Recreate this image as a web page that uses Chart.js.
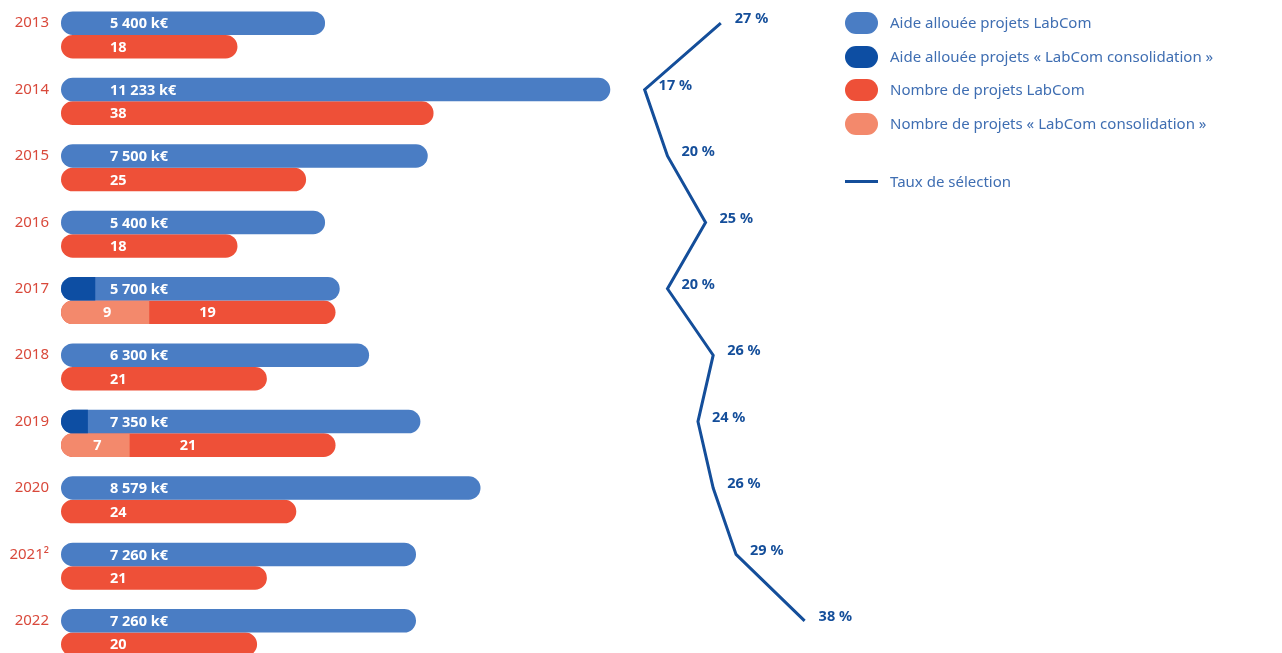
<!DOCTYPE html>
<html lang="fr">
<head>
<meta charset="utf-8">
<title>LabCom</title>
<script src="https://cdn.jsdelivr.net/npm/chart.js@4.4.1/dist/chart.umd.min.js"></script>
<style>
  html, body { margin: 0; padding: 0; background: #fff; overflow: hidden; }
  #wrap { position: relative; width: 1282px; height: 653px; overflow: hidden; }
  #c { position: absolute; left: 0; top: -12px; }
  .legend { position: absolute; left: 845px; top: 0; font-family: "Noto Sans", sans-serif; font-size: 15px; color: #3f6eb2; }
  .legend div { position: absolute; left: 0; white-space: nowrap; height: 22px; line-height: 22px; }
  .legend span.sw { position: absolute; left: 0; top: 0; width: 33px; height: 22px; border-radius: 11px; }
  .legend span.ln { position: absolute; left: 0; top: 9px; width: 33px; height: 3px; background: #144e9a; }
  .legend span.tx { position: absolute; left: 45px; top: -1px; }
</style>
</head>
<body>
<div id="wrap">
  <canvas id="c" width="1282" height="666"></canvas>
  <div class="legend">
    <div style="top:12px"><span class="sw" style="background:#4a7dc4"></span><span class="tx">Aide allouée projets LabCom</span></div>
    <div style="top:46px"><span class="sw" style="background:#0d4ea3"></span><span class="tx">Aide allouée projets « LabCom consolidation »</span></div>
    <div style="top:79px"><span class="sw" style="background:#ee5038"></span><span class="tx">Nombre de projets LabCom</span></div>
    <div style="top:113px"><span class="sw" style="background:#f3896c"></span><span class="tx">Nombre de projets « LabCom consolidation »</span></div>
    <div style="top:171px"><span class="ln"></span><span class="tx">Taux de sélection</span></div>
  </div>
</div>
<script>
// data
const years = ["2013", "2014", "2015", "2016", "2017", "2018", "2019", "2020", "2021²", "2022"];
const aideTotal = [5400, 11233, 7500, 5400, 5700, 6300, 7350, 8579, 7260, 7260]; // k€
const aideConso = [null, null, null, null, 700, null, 550, null, null, null]; // k€, estimated
const projetsLabCom = [18, 38, 25, 18, 19, 21, 21, 24, 21, 20];
const projetsConso = [null, null, null, null, 9, null, 7, null, null, null];
const tauxSelection = [27, 17, 20, 25, 20, 26, 24, 26, 29, 38]; // %

const BLUE = "#4a7dc4";
const DARK = "#0d4ea3";
const RED = "#ee5038";
const SALMON = "#f3896c";
const LINE = "#144e9a";
const FONT = "'Noto Sans', sans-serif";

const projetsTotal = projetsLabCom.map((v, i) => v + (projetsConso[i] || 0));
const fmt = (v) => String(v).replace(/\B(?=(\d{3})+(?!\d))/g, " ");
const leftRound = { topLeft: 12, bottomLeft: 12, topRight: 0, bottomRight: 0 };

// white labels inside bars, blue labels next to line points
const labelsPlugin = {
  id: "labels",
  afterDatasetsDraw(chart) {
    const ctx = chart.ctx;
    ctx.save();
    ctx.textBaseline = "middle";
    ctx.font = "bold 14.5px " + FONT;
    ctx.fillStyle = "#fff";

    const blue = chart.getDatasetMeta(2).data;
    const salmon = chart.getDatasetMeta(3).data;
    const red = chart.getDatasetMeta(4).data;
    years.forEach((y, i) => {
      ctx.textAlign = "left";
      ctx.fillText(fmt(aideTotal[i]) + " k€", blue[i].base + 49, blue[i].y + 1);
      if (projetsConso[i]) {
        ctx.textAlign = "center";
        ctx.fillText(String(projetsConso[i]), (salmon[i].base + salmon[i].x) / 2 + 2, salmon[i].y + 1);
        ctx.textAlign = "left";
        ctx.fillText(String(projetsLabCom[i]), salmon[i].x + 50, red[i].y + 1);
      } else {
        ctx.fillText(String(projetsLabCom[i]), red[i].base + 49, red[i].y + 1);
      }
    });

    ctx.fillStyle = LINE;
    ctx.textAlign = "left";
    chart.getDatasetMeta(5).data.forEach((p, i) => {
      ctx.fillText(tauxSelection[i] + " %", p.x + 14, p.y - 4);
    });
    ctx.restore();
  }
};

new Chart(document.getElementById("c"), {
  type: "bar",
  data: {
    labels: years,
    datasets: [
      // empty group slot above the blue bars, so that blue bars sit on the year line
      { label: "", data: years.map(() => null), stack: "vide", backgroundColor: "rgba(0,0,0,0)", xAxisID: "xa" },
      { label: "Aide allouée projets « LabCom consolidation »", data: aideConso, backgroundColor: DARK,
        xAxisID: "xa", stack: "aide", borderRadius: leftRound, borderSkipped: false },
      { label: "Aide allouée projets LabCom", data: aideTotal, backgroundColor: BLUE,
        xAxisID: "xa", stack: "aide", borderRadius: 12, borderSkipped: false },
      { label: "Nombre de projets « LabCom consolidation »", data: projetsConso, backgroundColor: SALMON,
        xAxisID: "xp", stack: "proj", borderRadius: leftRound, borderSkipped: false },
      { label: "Nombre de projets LabCom", data: projetsTotal, backgroundColor: RED,
        xAxisID: "xp", stack: "proj", borderRadius: 12, borderSkipped: false },
      { type: "line", label: "Taux de sélection", indexAxis: "y", data: tauxSelection,
        xAxisID: "xt", borderColor: LINE, borderWidth: 3,
        pointRadius: 0, tension: 0, fill: false }
    ]
  },
  options: {
    indexAxis: "y",
    responsive: false,
    animation: false,
    layout: { padding: { top: 2, right: 421, bottom: 0, left: 0 } },
    datasets: { bar: { categoryPercentage: 1.064, barPercentage: 1 } },
    plugins: { legend: { display: false }, tooltip: { enabled: false } },
    scales: {
      y: {
        stacked: true,
        grid: { display: false, drawTicks: false },
        border: { display: false },
        ticks: { color: "#d9493b", font: { family: FONT, size: 15 }, padding: 12 },
        afterFit(s) { s.width = 61; s.paddingTop = 0; s.paddingBottom = 0; }
      },
      xa: { type: "linear", display: false, stacked: false, min: 0, max: 16360 },
      xp: { type: "linear", display: false, stacked: false, min: 0, max: 81.6 },
      xt: { type: "linear", display: false, stacked: false, min: -59.6, max: 45.4 }
    }
  },
  plugins: [labelsPlugin]
});
</script>
</body>
</html>
